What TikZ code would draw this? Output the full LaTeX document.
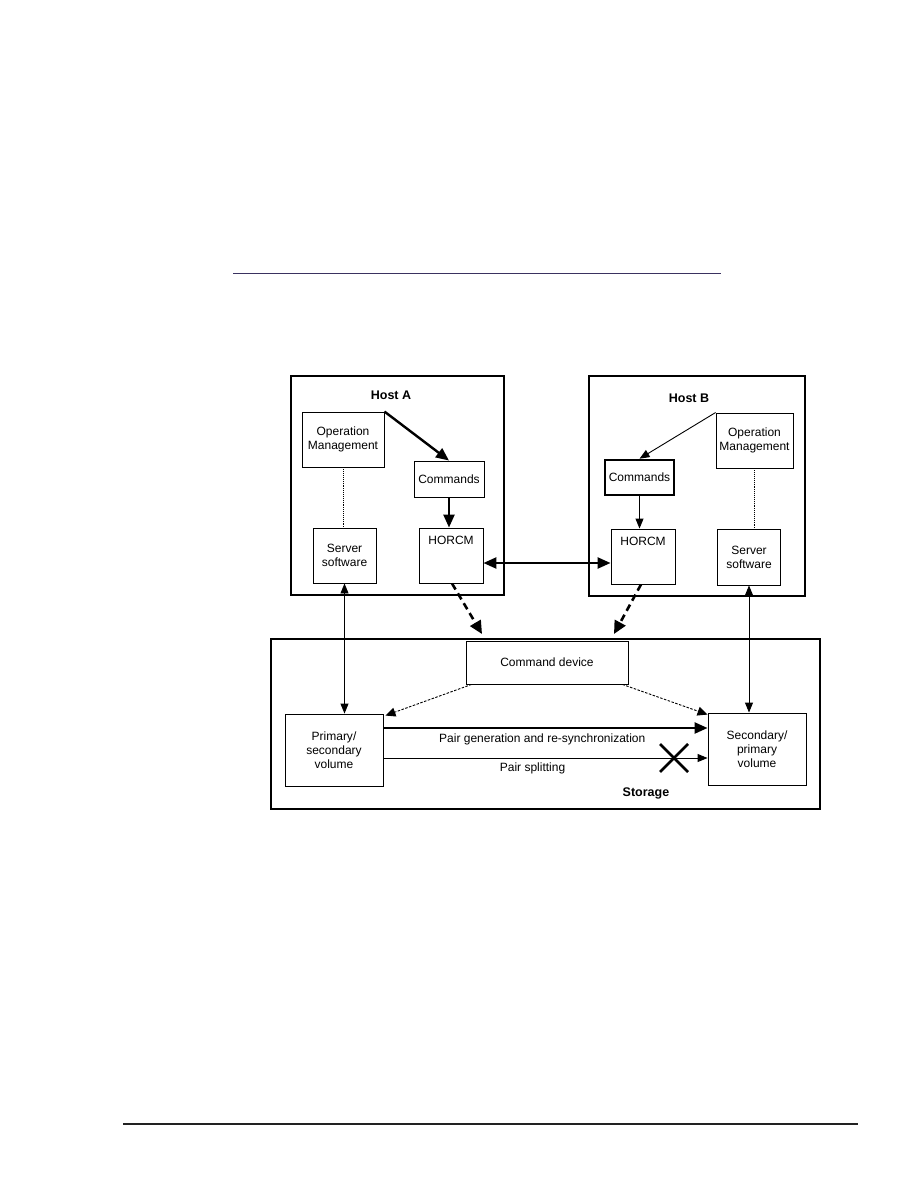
\documentclass[tikz,border=0pt]{standalone}
\usepackage{fontspec}
\setmainfont{Liberation Sans}
\usepackage{tikz}
\usetikzlibrary{arrows.meta}

\definecolor{rulenavy}{RGB}{58,50,96}
\definecolor{rulegray}{RGB}{34,34,34}

\tikzset{
  box/.style={draw, line width=0.9pt, align=center, inner sep=1pt},
  hostbox/.style={draw, line width=2.6pt},
  heavy/.style={line width=2.4pt, -{Triangle[length=13pt,width=11pt]}},
  light/.style={line width=0.9pt, -{Triangle[length=10pt,width=8pt]}},
  lightboth/.style={line width=0.9pt, {Triangle[length=10pt,width=8pt]}-{Triangle[length=10pt,width=8pt]}},
  dotline/.style={line width=0.9pt, densely dotted},
  dotarrow/.style={line width=0.9pt, dash pattern=on 2.5pt off 1.5pt, -{Triangle[length=10pt,width=9pt]}},
  dasharrow/.style={line width=2.6pt, dash pattern=on 7pt off 4.5pt, -{Triangle[length=13pt,width=12pt]}},
  title/.style={font=\fontsize{12.5}{15}\selectfont\bfseries}
}

\begin{document}
\begin{tikzpicture}[x=1pt, y=-1pt, font=\fontsize{12}{14}\selectfont]
  \useasboundingbox[fill=white] (0,0) rectangle (918,1188);

  % page rules
  \draw[rulenavy, line width=1pt] (233,273) -- (721,273);
  \draw[rulegray, line width=2.2pt] (123,1124) -- (858,1124);

  % host A
  \node[hostbox, minimum width=213, minimum height=219] (hostA) at (397.5,485.5) {};
  \node[title] (hostAlbl) at (391,395) {Host A};
  \node[box, minimum width=82, minimum height=55] (opA) at (343,439.5) {Operation\\Management};
  \node[box, minimum width=70, minimum height=36] (cmdA) at (449,479) {Commands};
  \node[box, minimum width=63, minimum height=55] (srvA) at (344.5,555.5) {Server\\software};
  \node[box, minimum width=64, minimum height=55,
        label={[anchor=north, yshift=-5pt]north:HORCM}] (horA) at (451,555.5) {};

  % host B
  \node[hostbox, minimum width=216, minimum height=220] (hostB) at (697,486) {};
  \node[title] (hostBlbl) at (689,398) {Host B};
  \node[box, minimum width=77, minimum height=55] (opB) at (754.5,440.5) {Operation\\Management};
  \node[box, line width=2.6pt, minimum width=69, minimum height=35] (cmdB) at (639.5,477.5) {Commands};
  \node[box, minimum width=64, minimum height=55,
        label={[anchor=north, yshift=-5pt]north:HORCM}] (horB) at (643,556.5) {};
  \node[box, minimum width=63, minimum height=56] (srvB) at (749,557) {Server\\software};

  % storage
  \node[hostbox, minimum width=549, minimum height=170] (stor) at (545.5,724) {};
  \node[title] (storlbl) at (646,793) {Storage};
  \node[box, minimum width=162, minimum height=43] (cmddev) at (547,662.5) {Command device};
  \node[box, minimum width=98, minimum height=72] (pri) at (334,750) {Primary/\\secondary\\volume};
  \node[box, minimum width=98, minimum height=72] (sec) at (757,749) {Secondary/\\primary\\volume};

  \coordinate (cdA) at (482,634);
  \coordinate (cdB) at (614,634);
  \coordinate (gen) at (0,728);
  \coordinate (spl) at (0,758);
  \coordinate (xmark) at (674,758);

  % inside the hosts
  \draw[heavy] (opA.north east) -- (cmdA.north);
  \draw[heavy] (cmdA.south) -- (cmdA.south |- horA.north);
  \draw[dotline] (opA.south) -- (opA.south |- srvA.north);
  \draw[light] (opB.north west) -- (cmdB.north);
  \draw[light] (cmdB.south) -- (cmdB.south |- horB.north);
  \draw[dotline] (opB.south) -- (opB.south |- srvB.north);

  % between hosts and storage
  \draw[line width=2.4pt, {Triangle[length=13pt,width=11pt]}-{Triangle[length=13pt,width=11pt]}]
    ([yshift=-7.5pt]horA.east) -- ([yshift=-7.5pt]horA.east -| horB.west);
  \draw[dasharrow] ([xshift=1pt]horA.south) -- (cdA);
  \draw[dasharrow] ([xshift=-2pt]horB.south) -- (cdB);
  \draw[lightboth] (srvA.south) -- (srvA.south |- pri.north);
  \draw[lightboth] (srvB.south) -- (srvB.south |- sec.north);

  % inside storage
  \draw[dotarrow] ([xshift=6pt]cmddev.south west) -- ([xshift=2pt,yshift=-2pt]pri.north east);
  \draw[dotarrow] ([xshift=-6pt]cmddev.south east) -- ([yshift=-2pt]sec.north west);
  \draw[heavy] (pri.east |- gen) -- (sec.west |- gen)
    node[pos=0.49, below=1pt] (genlbl) {Pair generation and re-synchronization};
  \draw[light] (pri.east |- spl) -- (sec.west |- spl)
    node[pos=0.46, below=1pt] (spllbl) {Pair splitting};
  \draw[line width=2.6pt] ([shift={(-14,-14)}]xmark) -- ([shift={(14,14)}]xmark);
  \draw[line width=2.6pt] ([shift={(-14,14)}]xmark) -- ([shift={(14,-14)}]xmark);
\end{tikzpicture}
\end{document}
